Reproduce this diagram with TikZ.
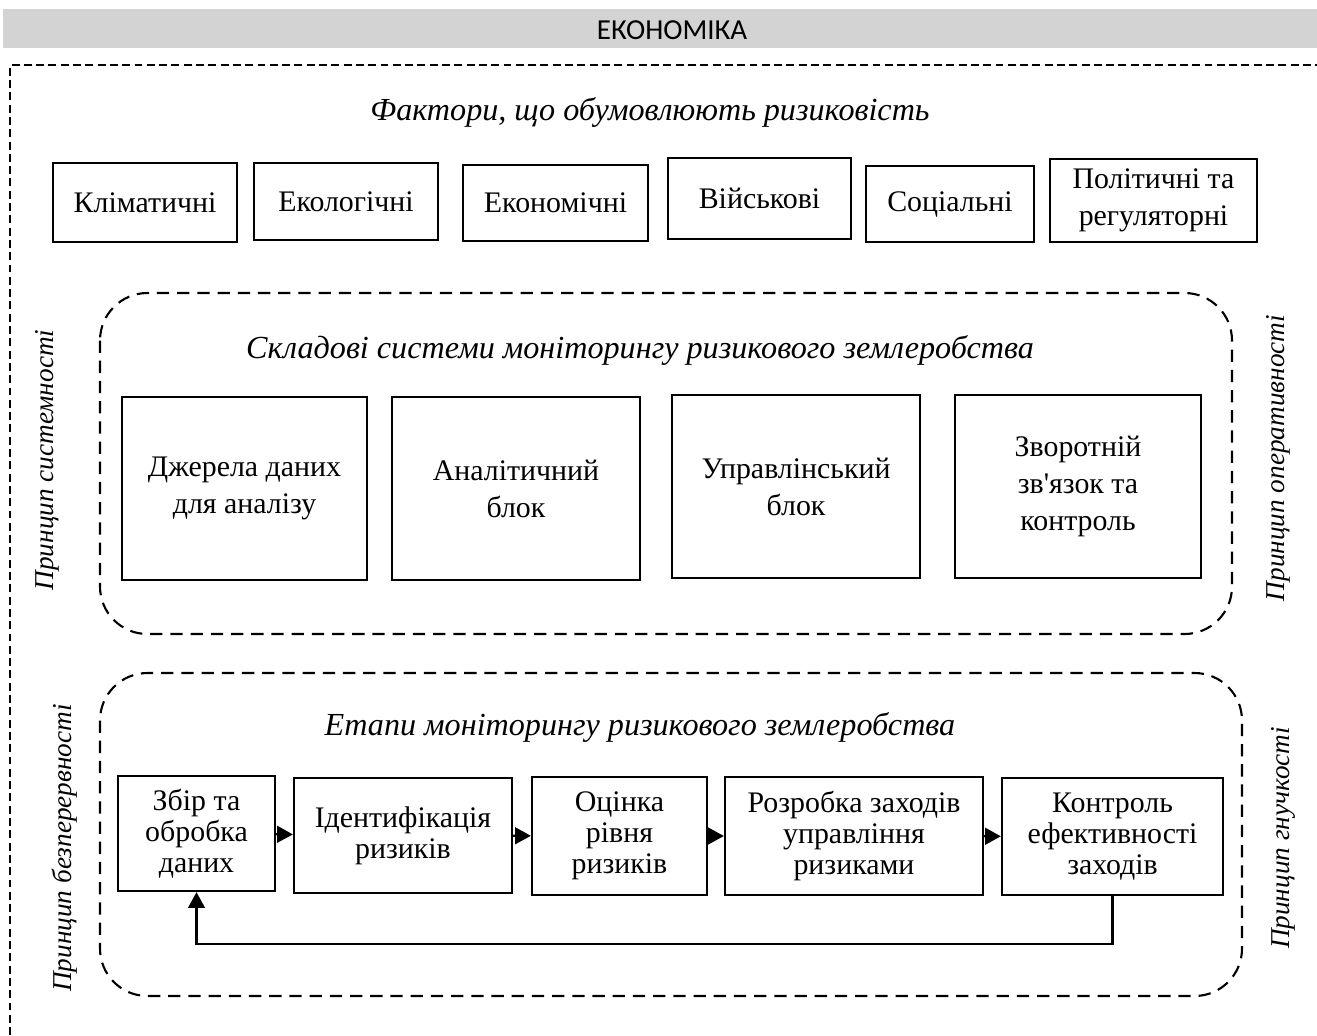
\documentclass[tikz,border=0pt]{standalone}
\usepackage{fontspec}
\setmainfont{Liberation Serif}
\newfontfamily\titlefont{Carlito}
\usepackage{tikz}
\usetikzlibrary{arrows.meta, positioning}
\definecolor{bargray}{RGB}{211,211,211}
\newcommand{\bodyfont}{\fontsize{17}{21}\selectfont}
\newcommand{\stagefont}{\fontsize{17}{17.6}\selectfont}

\begin{document}
\begin{tikzpicture}[x=0.02cm, y=-0.02cm,
    box/.style={draw, line width=1.3pt, align=center, inner sep=0pt, font=\bodyfont},
    stagebox/.style={draw, line width=1.3pt, align=center, inner sep=0pt, font=\stagefont},
    heading/.style={font=\fontsize{18.3}{22}\selectfont\itshape},
    principle/.style={font=\fontsize{15.5}{18}\selectfont\itshape, rotate=90},
    groupline/.style={line width=1.2pt, dash pattern=on 7pt off 4.5pt, rounded corners=0.95cm},
    frameline/.style={line width=1pt, dash pattern=on 4.5pt off 2.5pt},
    flow/.style={line width=1.3pt, -{Triangle[length=9pt, width=9.5pt]}}]
  \useasboundingbox (0,0) rectangle (1317,1035);

  % Title bar
  \fill[bargray] (3,9) rectangle (1317,48);
  \node[font=\titlefont\fontsize{16.5}{18}\selectfont] (title) at (672,30) {ЕКОНОМІКА};

  % Outer frame
  \draw[frameline] (10,1035) |- (1317,65);

  % Factors
  \node[heading] (factors) at (650,112) {Фактори, що обумовлюють ризиковість};
  \node[box, minimum width=3.68cm, minimum height=1.58cm] (f1) at (145,202.5) {Кліматичні};
  \node[box, minimum width=3.68cm, minimum height=1.54cm] (f2) at (346,201.5) {Екологічні};
  \node[box, minimum width=3.70cm, minimum height=1.52cm] (f3) at (555.5,203) {Економічні};
  \node[box, minimum width=3.66cm, minimum height=1.62cm] (f4) at (759.5,198.5) {Військові};
  \node[box, minimum width=3.36cm, minimum height=1.52cm] (f5) at (950,204) {Соціальні};
  \node[box, minimum width=4.14cm, minimum height=1.66cm] (f6) at (1153.5,200.5) {Політичні та\\регуляторні};

  % Components of the monitoring system
  \draw[groupline] (100,293) rectangle (1232,634);
  \node[heading] (parts) at (640,350) {Складові системи моніторингу ризикового землеробства};
  \node[box, minimum width=4.90cm, minimum height=3.66cm] (c1) at (244.5,488.5) {Джерела даних\\для аналізу};
  \node[box, minimum width=4.96cm, minimum height=3.66cm] (c2) at (516,488.5) {Аналітичний\\блок};
  \node[box, minimum width=4.96cm, minimum height=3.66cm] (c3) at (796,486.5) {Управлінський\\блок};
  \node[box, minimum width=4.92cm, minimum height=3.66cm] (c4) at (1078,486.5) {Зворотній\\зв\textquotesingle язок та\\контроль};
  \node[principle] (p1) at (47,460) {Принцип системності};
  \node[principle] (p2) at (1278,458) {Принцип оперативності};

  % Stages of monitoring
  \draw[groupline] (100,673) rectangle (1242,996);
  \node[heading] (stages) at (640,727) {Етапи моніторингу ризикового землеробства};
  \node[stagebox, minimum width=3.14cm, minimum height=2.30cm] (s1) at (196.5,833.5) {Збір та\\обробка\\даних};
  \node[stagebox, minimum width=4.36cm, minimum height=2.30cm] (s2) at (403,835.5) {Ідентифікація\\ризиків};
  \node[stagebox, minimum width=3.50cm, minimum height=2.36cm] (s3) at (619.5,836) {Оцінка\\рівня\\ризиків};
  \node[stagebox, minimum width=5.16cm, minimum height=2.36cm] (s4) at (854,836) {Розробка заходів\\управління\\ризиками};
  \node[stagebox, minimum width=4.42cm, minimum height=2.34cm] (s5) at (1112.5,836.5) {Контроль\\ефективності\\заходів};
  \draw[flow] (s1) -- (s2);
  \draw[flow] (s2) -- (s3);
  \draw[flow] (s3) -- (s4);
  \draw[flow] (s4) -- (s5);
  \draw[flow] (s5.south) -- ++(0,48) -| (s1.south);
  \node[principle] (p3) at (65,848) {Принцип безперервності};
  \node[principle] (p4) at (1283,838) {Принцип гнучкості};
\end{tikzpicture}
\end{document}
